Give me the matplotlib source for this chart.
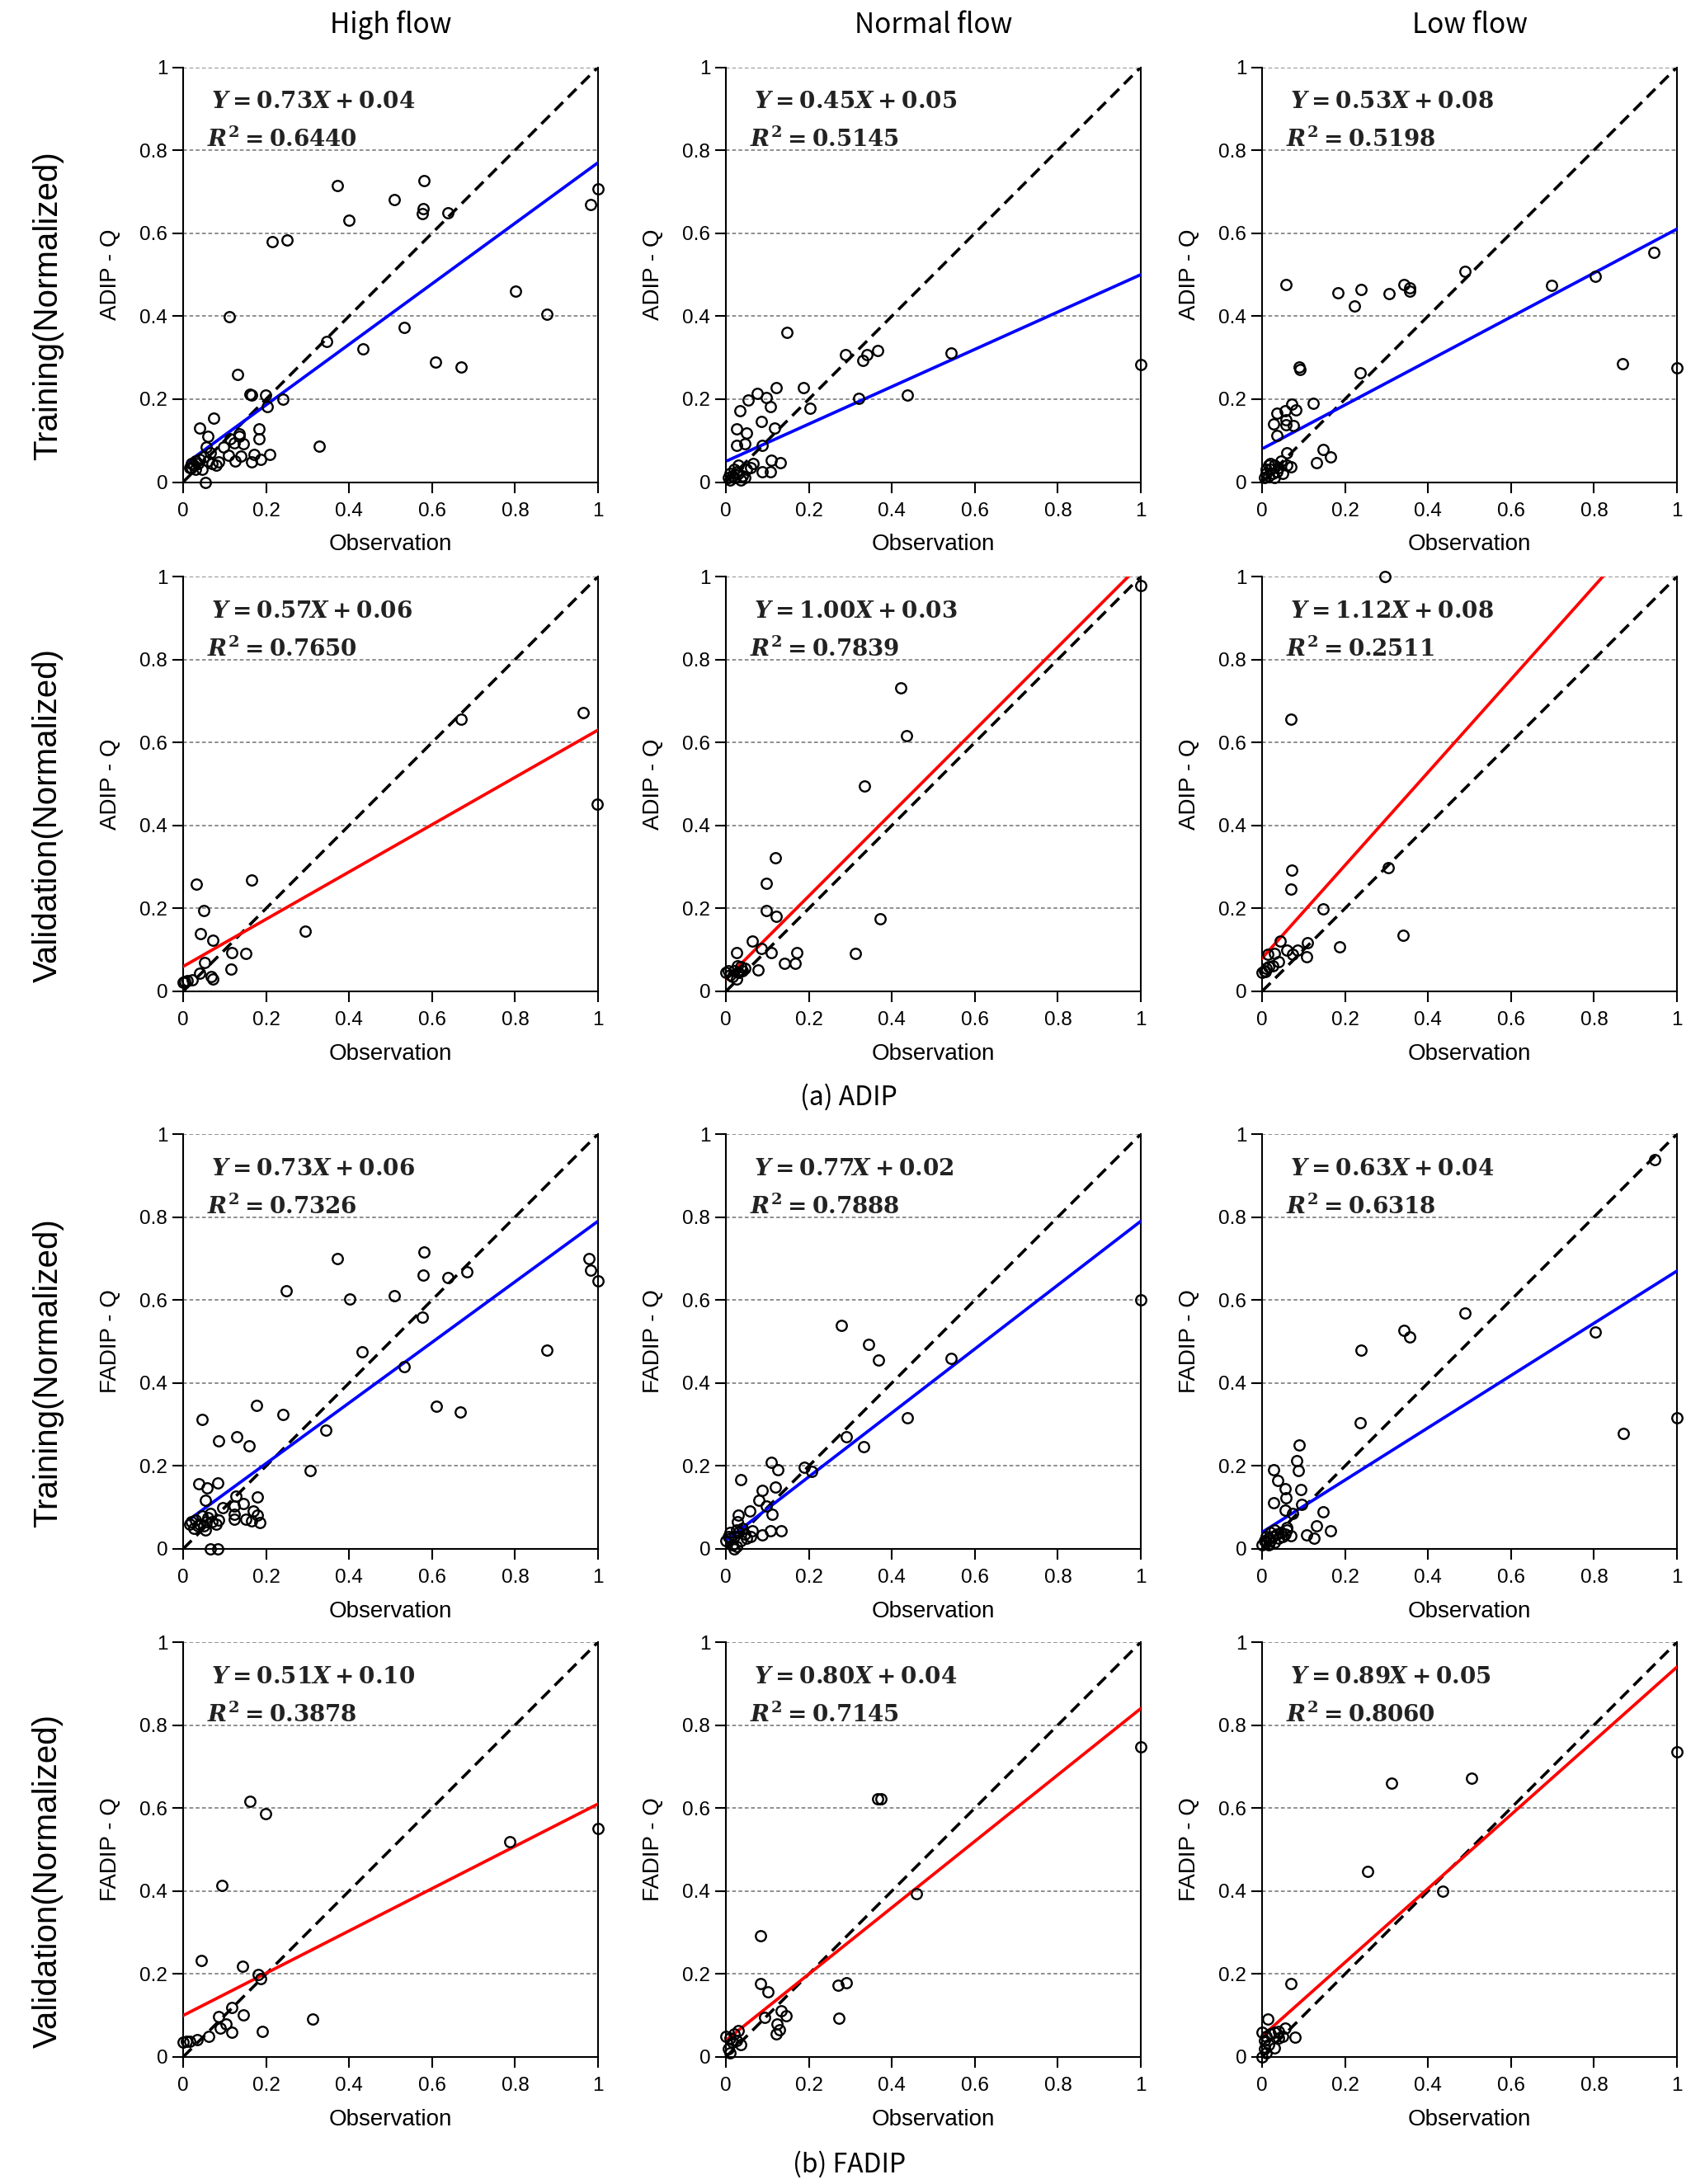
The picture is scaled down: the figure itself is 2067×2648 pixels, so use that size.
import matplotlib
matplotlib.use('Agg')
import matplotlib.pyplot as plt
import numpy as np

plt.rcParams['font.family'] = ['Liberation Sans', 'DejaVu Sans']
plt.rcParams['mathtext.fontset'] = 'custom'
plt.rcParams['mathtext.rm'] = 'DejaVu Serif:bold'
plt.rcParams['mathtext.it'] = 'DejaVu Serif:italic:bold'
plt.rcParams['mathtext.bf'] = 'DejaVu Serif:bold'

# Spaltentitel und Zeilenbeschriftungen
flows = ['High flow', 'Normal flow', 'Low flow']
row_phase = ['Training(Normalized)', 'Validation(Normalized)',
             'Training(Normalized)', 'Validation(Normalized)']
row_model = ['ADIP - Q', 'ADIP - Q', 'FADIP - Q', 'FADIP - Q']
captions = ['(a) ADIP', '(b) FADIP']

slopes = [[0.73, 0.45, 0.53], [0.57, 1.00, 1.12],
          [0.73, 0.77, 0.63], [0.51, 0.80, 0.89]]
intercepts = [[0.04, 0.05, 0.08], [0.06, 0.03, 0.08],
              [0.06, 0.02, 0.04], [0.10, 0.04, 0.05]]
r2 = [['0.6440', '0.5145', '0.5198'], ['0.7650', '0.7839', '0.2511'],
      ['0.7326', '0.7888', '0.6318'], ['0.3878', '0.7145', '0.8060']]

# ADIP, Training
adip_train_high_obs = [0.372, 0.509, 0.400, 0.580, 0.578, 0.576, 0.638, 1.000, 0.982, 0.215,
                       0.250, 0.112, 0.802, 0.876, 0.533, 0.433, 0.346, 0.609, 0.670, 0.131,
                       0.162, 0.166, 0.198, 0.203, 0.241, 0.329, 0.074, 0.039, 0.059, 0.182,
                       0.182, 0.135, 0.136, 0.145, 0.209, 0.170, 0.187, 0.165, 0.140, 0.126,
                       0.109, 0.098, 0.085, 0.080, 0.054, 0.124, 0.114,
                       0.020, 0.025, 0.030, 0.035, 0.040, 0.050, 0.060, 0.065, 0.045, 0.020,
                       0.030, 0.015, 0.070, 0.055]
adip_train_high_sim = [0.715, 0.680, 0.631, 0.726, 0.659, 0.648, 0.650, 0.707, 0.669, 0.579,
                       0.584, 0.399, 0.460, 0.404, 0.373, 0.322, 0.339, 0.289, 0.277, 0.259,
                       0.212, 0.209, 0.209, 0.181, 0.199, 0.086, 0.154, 0.130, 0.110, 0.128,
                       0.104, 0.117, 0.110, 0.093, 0.067, 0.067, 0.054, 0.048, 0.062, 0.050,
                       0.065, 0.084, 0.048, 0.041, 0.000, 0.095, 0.104,
                       0.035, 0.040, 0.050, 0.045, 0.055, 0.060, 0.050, 0.070, 0.030, 0.045,
                       0.030, 0.035, 0.045, 0.085]
adip_train_normal_obs = [1.000, 0.148, 0.543, 0.289, 0.339, 0.366, 0.331, 0.320, 0.437, 0.122,
                         0.186, 0.076, 0.098, 0.054, 0.108, 0.203, 0.033, 0.085, 0.117, 0.026,
                         0.050, 0.025, 0.045, 0.088, 0.110, 0.131, 0.065, 0.088, 0.108, 0.059,
                         0.005, 0.010, 0.015, 0.020, 0.030, 0.035, 0.040, 0.025, 0.045, 0.010,
                         0.030, 0.050, 0.020]
adip_train_normal_sim = [0.283, 0.361, 0.312, 0.307, 0.307, 0.317, 0.294, 0.202, 0.209, 0.228,
                         0.228, 0.213, 0.204, 0.198, 0.182, 0.177, 0.171, 0.146, 0.130, 0.128,
                         0.119, 0.089, 0.093, 0.088, 0.053, 0.046, 0.045, 0.025, 0.024, 0.034,
                         0.010, 0.005, 0.015, 0.010, 0.020, 0.005, 0.015, 0.025, 0.010, 0.020,
                         0.040, 0.030, 0.030]
adip_train_low_obs = [1.000, 0.869, 0.945, 0.803, 0.697, 0.489, 0.057, 0.182, 0.238, 0.223,
                      0.306, 0.342, 0.356, 0.356, 0.089, 0.091, 0.237, 0.124, 0.071, 0.081,
                      0.056, 0.036, 0.028, 0.057, 0.076, 0.057, 0.036, 0.148, 0.165, 0.132,
                      0.059, 0.069,
                      0.005, 0.010, 0.015, 0.020, 0.025, 0.030, 0.035, 0.040, 0.045, 0.010,
                      0.020, 0.050, 0.030, 0.015, 0.060]
adip_train_low_sim = [0.276, 0.285, 0.553, 0.497, 0.474, 0.508, 0.476, 0.456, 0.465, 0.425,
                      0.455, 0.477, 0.468, 0.461, 0.278, 0.272, 0.263, 0.189, 0.187, 0.173,
                      0.171, 0.166, 0.141, 0.139, 0.137, 0.151, 0.112, 0.079, 0.060, 0.047,
                      0.071, 0.036,
                      0.010, 0.020, 0.015, 0.030, 0.020, 0.040, 0.025, 0.035, 0.050, 0.030,
                      0.045, 0.020, 0.010, 0.040, 0.040]

# ADIP, Validierung
adip_val_high_obs = [0.670, 0.965, 0.999, 0.032, 0.165, 0.049, 0.295, 0.042, 0.071, 0.117,
                     0.151, 0.051, 0.115, 0.039, 0.071, 0.067, 0.022, 0.003, 0.010, 0.000]
adip_val_high_sim = [0.656, 0.671, 0.452, 0.259, 0.268, 0.195, 0.145, 0.139, 0.124, 0.093,
                     0.091, 0.069, 0.053, 0.043, 0.030, 0.036, 0.028, 0.023, 0.026, 0.022]
adip_val_normal_obs = [1.000, 0.422, 0.435, 0.334, 0.120, 0.098, 0.097, 0.122, 0.372, 0.064,
                       0.086, 0.109, 0.171, 0.026, 0.141, 0.167, 0.312, 0.078, 0.028,
                       0.000, 0.010, 0.020, 0.030, 0.040, 0.015, 0.005, 0.035, 0.045, 0.025]
adip_val_normal_sim = [0.979, 0.731, 0.616, 0.495, 0.323, 0.260, 0.195, 0.180, 0.175, 0.122,
                       0.103, 0.093, 0.093, 0.094, 0.067, 0.067, 0.091, 0.052, 0.062,
                       0.045, 0.040, 0.050, 0.045, 0.050, 0.035, 0.050, 0.060, 0.055, 0.030]
adip_val_low_obs = [0.296, 0.070, 0.072, 0.070, 0.304, 0.148, 0.340, 0.187, 0.043, 0.060,
                    0.086, 0.074, 0.110, 0.108, 0.029, 0.013, 0.039, 0.025,
                    0.005, 0.010, 0.000, 0.015, 0.008]
adip_val_low_sim = [1.000, 0.656, 0.293, 0.247, 0.299, 0.198, 0.136, 0.108, 0.122, 0.100,
                    0.100, 0.089, 0.117, 0.084, 0.091, 0.089, 0.072, 0.062,
                    0.050, 0.055, 0.045, 0.060, 0.048]

# FADIP, Training
fadip_train_high_obs = [0.372, 0.580, 0.579, 0.638, 0.683, 0.979, 0.982, 1.000, 0.248, 0.401,
                        0.509, 0.576, 0.432, 0.533, 0.877, 0.610, 0.668, 0.176, 0.240, 0.045,
                        0.343, 0.129, 0.086, 0.160, 0.306, 0.037, 0.083, 0.058, 0.178, 0.053,
                        0.127, 0.145, 0.096, 0.124, 0.169, 0.124, 0.179, 0.124, 0.151, 0.165,
                        0.184, 0.065, 0.084, 0.053,
                        0.020, 0.030, 0.040, 0.050, 0.060, 0.070, 0.080, 0.025, 0.045, 0.055,
                        0.035, 0.065, 0.085, 0.015]
fadip_train_high_sim = [0.700, 0.715, 0.661, 0.654, 0.668, 0.699, 0.671, 0.646, 0.622, 0.603,
                        0.611, 0.558, 0.475, 0.439, 0.479, 0.344, 0.331, 0.346, 0.324, 0.312,
                        0.286, 0.270, 0.260, 0.248, 0.188, 0.158, 0.160, 0.147, 0.125, 0.117,
                        0.127, 0.110, 0.100, 0.103, 0.091, 0.084, 0.081, 0.072, 0.072, 0.067,
                        0.064, 0.000, 0.000, 0.045,
                        0.065, 0.070, 0.060, 0.055, 0.075, 0.065, 0.060, 0.050, 0.080, 0.065,
                        0.055, 0.085, 0.070, 0.060]
fadip_train_normal_obs = [1.000, 0.278, 0.343, 0.368, 0.542, 0.438, 0.290, 0.332, 0.109, 0.126,
                          0.188, 0.206, 0.036, 0.120, 0.088, 0.079, 0.098, 0.058, 0.112, 0.030,
                          0.133, 0.107, 0.088, 0.063, 0.027,
                          0.000, 0.010, 0.015, 0.020, 0.025, 0.030, 0.035, 0.040, 0.045, 0.005,
                          0.020, 0.050, 0.060, 0.010, 0.025]
fadip_train_normal_sim = [0.601, 0.539, 0.494, 0.455, 0.460, 0.317, 0.270, 0.247, 0.209, 0.191,
                          0.197, 0.187, 0.167, 0.150, 0.141, 0.117, 0.103, 0.092, 0.084, 0.081,
                          0.043, 0.043, 0.034, 0.043, 0.065,
                          0.020, 0.025, 0.010, 0.030, 0.005, 0.040, 0.020, 0.050, 0.035, 0.030,
                          0.000, 0.025, 0.030, 0.040, 0.045]
fadip_train_low_obs = [0.947, 0.489, 0.342, 0.356, 0.239, 0.804, 1.000, 0.871, 0.237, 0.089,
                       0.084, 0.087, 0.028, 0.037, 0.056, 0.094, 0.058, 0.028, 0.096, 0.056,
                       0.147, 0.074, 0.131, 0.165, 0.108, 0.126, 0.069, 0.060,
                       0.000, 0.005, 0.010, 0.015, 0.020, 0.025, 0.030, 0.035, 0.040, 0.045,
                       0.010, 0.020, 0.050, 0.030, 0.015, 0.055, 0.060]
fadip_train_low_sim = [0.939, 0.568, 0.526, 0.510, 0.479, 0.523, 0.317, 0.279, 0.305, 0.251,
                       0.213, 0.188, 0.191, 0.165, 0.145, 0.143, 0.123, 0.112, 0.108, 0.093,
                       0.090, 0.086, 0.056, 0.043, 0.034, 0.025, 0.031, 0.052,
                       0.010, 0.020, 0.015, 0.025, 0.020, 0.030, 0.015, 0.035, 0.025, 0.040,
                       0.030, 0.040, 0.030, 0.045, 0.010, 0.035, 0.045]

# FADIP, Validierung
fadip_val_high_obs = [0.162, 0.198, 0.787, 1.000, 0.094, 0.043, 0.143, 0.180, 0.186, 0.117,
                      0.086, 0.146, 0.103, 0.089, 0.118, 0.312, 0.191, 0.062, 0.033, 0.015,
                      0.000, 0.007]
fadip_val_high_sim = [0.617, 0.586, 0.518, 0.551, 0.414, 0.232, 0.218, 0.199, 0.189, 0.120,
                      0.098, 0.102, 0.079, 0.069, 0.060, 0.091, 0.062, 0.050, 0.041, 0.038,
                      0.036, 0.038]
fadip_val_normal_obs = [1.000, 0.365, 0.374, 0.460, 0.083, 0.083, 0.102, 0.270, 0.290, 0.273,
                        0.134, 0.145, 0.094, 0.123, 0.129, 0.121, 0.036, 0.030,
                        0.000, 0.010, 0.015, 0.020, 0.005, 0.025, 0.010]
fadip_val_normal_sim = [0.747, 0.622, 0.622, 0.393, 0.292, 0.177, 0.158, 0.173, 0.179, 0.093,
                        0.111, 0.100, 0.096, 0.079, 0.065, 0.055, 0.030, 0.063,
                        0.050, 0.045, 0.035, 0.055, 0.020, 0.040, 0.010]
fadip_val_low_obs = [1.000, 0.312, 0.505, 0.254, 0.435, 0.069, 0.013, 0.079, 0.056, 0.039,
                     0.029,
                     0.000, 0.010, 0.020, 0.030, 0.040, 0.050, 0.005, 0.010, 0.000, 0.015, 0.005]
fadip_val_low_sim = [0.735, 0.660, 0.671, 0.447, 0.399, 0.177, 0.091, 0.047, 0.069, 0.062,
                     0.021,
                     0.060, 0.050, 0.055, 0.060, 0.045, 0.050, 0.020, 0.010, 0.000, 0.030, 0.040]

panels = [
    [(adip_train_high_obs, adip_train_high_sim), (adip_train_normal_obs, adip_train_normal_sim),
     (adip_train_low_obs, adip_train_low_sim)],
    [(adip_val_high_obs, adip_val_high_sim), (adip_val_normal_obs, adip_val_normal_sim),
     (adip_val_low_obs, adip_val_low_sim)],
    [(fadip_train_high_obs, fadip_train_high_sim), (fadip_train_normal_obs, fadip_train_normal_sim),
     (fadip_train_low_obs, fadip_train_low_sim)],
    [(fadip_val_high_obs, fadip_val_high_sim), (fadip_val_normal_obs, fadip_val_normal_sim),
     (fadip_val_low_obs, fadip_val_low_sim)],
]

W, H = 2067, 2648
fig = plt.figure(figsize=(W / 100, H / 100), dpi=100)

col_left = [222, 880, 1530]
row_top = [81.5, 699, 1375, 1991]
size = 503

ticks = [0, 0.2, 0.4, 0.6, 0.8, 1.0]
ticklabels = ['0', '0.2', '0.4', '0.6', '0.8', '1']

for r in range(4):
    fit_color = '#0000ff' if r % 2 == 0 else '#ff0000'
    for c in range(3):
        ax = fig.add_axes([col_left[c] / W, 1 - (row_top[r] + size) / H, size / W, size / H])
        obs, sim = panels[r][c]
        obs = np.array(obs)
        sim = np.array(sim)

        ax.set_xlim(0, 1)
        ax.set_ylim(0, 1)
        ax.set_xticks(ticks)
        ax.set_xticklabels(ticklabels)
        ax.set_yticks(ticks)
        ax.set_yticklabels(ticklabels)
        ax.tick_params(direction='out', length=9.5, width=1.5, labelsize=17.5)
        ax.tick_params(axis='x', pad=8)
        ax.tick_params(axis='y', pad=4)
        for s in ['left', 'bottom', 'right']:
            ax.spines[s].set_linewidth(1.5)
        ax.spines['top'].set_visible(False)
        for yv in ticks[1:]:
            ax.axhline(yv, color='#707070', lw=1.1, ls=(0, (3, 2)), zorder=0)

        # 1:1-Linie
        ax.plot([0, 1], [0, 1], color='k', lw=2.6, ls=(0, (4, 2.3)), zorder=2)
        # Regressionsgerade
        xs = np.array([obs.min(), 1.0])
        ax.plot(xs, slopes[r][c] * xs + intercepts[r][c], color=fit_color, lw=2.7, zorder=3)
        # Messpunkte
        ax.plot(obs, sim, 'o', mfc='none', mec='k', ms=9, mew=1.7, clip_on=False, zorder=4)

        ax.text(0.068, 0.915, r'$Y = %.2fX + %.2f$' % (slopes[r][c], intercepts[r][c]),
                transform=ax.transAxes, fontsize=20, va='center', ha='left', color='#222222')
        ax.text(0.058, 0.825, r'$R^2 = %s$' % r2[r][c],
                transform=ax.transAxes, fontsize=20, va='center', ha='left', color='#222222')

        ax.set_xlabel('Observation', fontsize=20)
        ax.xaxis.set_label_coords(0.5, -0.125)
        ax.set_ylabel(row_model[r], fontsize=20)
        ax.yaxis.set_label_coords(-0.15, 0.5)

        if r == 0:
            fig.text((col_left[c] + size / 2) / W, 1 - 30 / H, flows[c], fontsize=24,
                     ha='center', va='center', family=['Noto Sans CJK KR', 'DejaVu Sans'])

    fig.text(58 / W, 1 - (row_top[r] + size / 2 + 38) / H, row_phase[r], fontsize=29,
             rotation=90, ha='center', va='center')

fig.text(0.498, 1 - 1330 / H, captions[0], fontsize=23, ha='center', va='center',
         family=['Noto Sans CJK KR', 'DejaVu Sans'])
fig.text(0.498, 1 - 2624 / H, captions[1], fontsize=23, ha='center', va='center',
         family=['Noto Sans CJK KR', 'DejaVu Sans'])

fig.savefig('out.png', dpi=100, facecolor='white')
